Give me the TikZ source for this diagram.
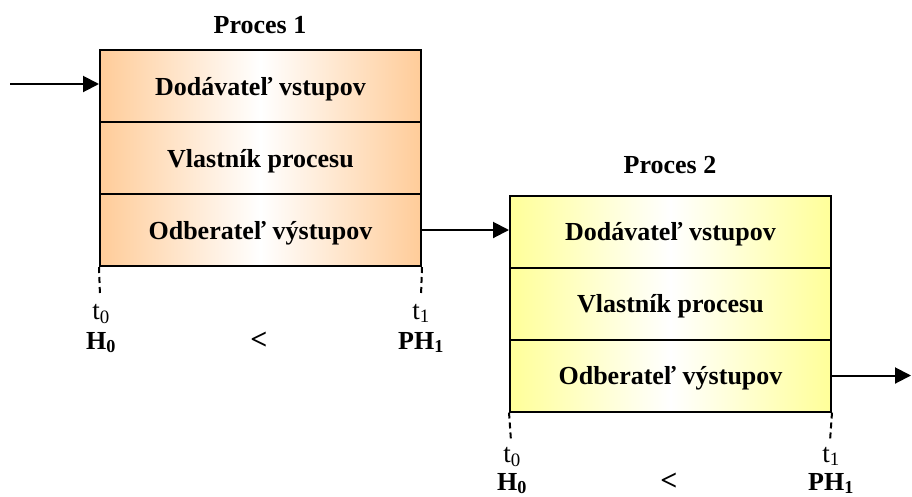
\documentclass[tikz,border=0pt]{standalone}
\usepackage{fontspec}
\setmainfont{Liberation Serif}
\usetikzlibrary{arrows.meta}
\definecolor{lorange}{RGB}{255,204,153}
\definecolor{lyellow}{RGB}{255,255,153}
\tikzset{
  cell/.style={draw=black, line width=2pt, minimum width=321pt, minimum height=72pt,
    inner sep=0pt, text height=18pt, text depth=0pt,
    font=\fontsize{26}{30}\selectfont\bfseries, middle color=white},
  orangecell/.style={cell, left color=lorange, right color=lorange, middle color=white},
  yellowcell/.style={cell, left color=lyellow, right color=lyellow, middle color=white},
  arr/.style={line width=2pt, -{Triangle[length=16pt,width=16pt]}},
  tick/.style={line width=2pt, dash pattern=on 6pt off 4pt},
  title/.style={font=\fontsize{26}{30}\selectfont\bfseries, anchor=base},
  tlab/.style={font=\fontsize{27}{30}\selectfont, anchor=base, inner ysep=1pt},
  ltlab/.style={font=\fontsize{30}{34}\selectfont\bfseries, anchor=base},
  hlab/.style={font=\fontsize{26}{30}\selectfont\bfseries, anchor=base, inner ysep=1pt}
}
\begin{document}
\begin{tikzpicture}[x=1pt,y=-1pt]
\useasboundingbox (0,0) rectangle (912,496);
% Process 1
\node[title] (title1) at (260,33) {Proces 1};
\node[orangecell] (p1a) at (260.5,86) {Dodávateľ vstupov};
\node[orangecell] (p1b) at (260.5,158) {Vlastník procesu};
\node[orangecell] (p1c) at (260.5,230) {Odberateľ výstupov};
% Process 2
\node[title] (title2) at (670,173) {Proces 2};
\node[yellowcell] (p2a) at (670.5,231.5) {Dodávateľ vstupov};
\node[yellowcell] (p2b) at (670.5,303.5) {Vlastník procesu};
\node[yellowcell] (p2c) at (670.5,375.5) {Odberateľ výstupov};
% arrows
\coordinate (in) at (10,84);
\coordinate (out) at (911,375.5);
\draw[arr] (in) -- (in -| p1a.west);
\draw[arr] (p1c.east) -- (p1c.east -| p2a.west);
\draw[arr] (p2c.east) -- (out);
% ticks process 1
\coordinate (d1a) at (100,296);
\coordinate (d1b) at (421,296);
\draw[tick] (p1c.south west) -- (d1a);
\draw[tick] (p1c.south east) -- (d1b);
\node[tlab] (t10) at (101,319) {t\textsubscript{0}};
\node[tlab] (t11) at (421,319) {t\textsubscript{1}};
\node[hlab] (h10) at (101,349) {H\textsubscript{0}};
\node[ltlab] (lt1) at (259,349) {<};
\node[hlab] (h11) at (421,349) {PH\textsubscript{1}};
% ticks process 2
\coordinate (d2a) at (511,441);
\coordinate (d2b) at (830,441);
\draw[tick] (p2c.south west) -- (d2a);
\draw[tick] (p2c.south east) -- (d2b);
\node[tlab] (t20) at (512,462) {t\textsubscript{0}};
\node[tlab] (t21) at (831,462) {t\textsubscript{1}};
\node[hlab] (h20) at (512,490) {H\textsubscript{0}};
\node[ltlab] (lt2) at (669,490) {<};
\node[hlab] (h21) at (831,490) {PH\textsubscript{1}};
\end{tikzpicture}
\end{document}
